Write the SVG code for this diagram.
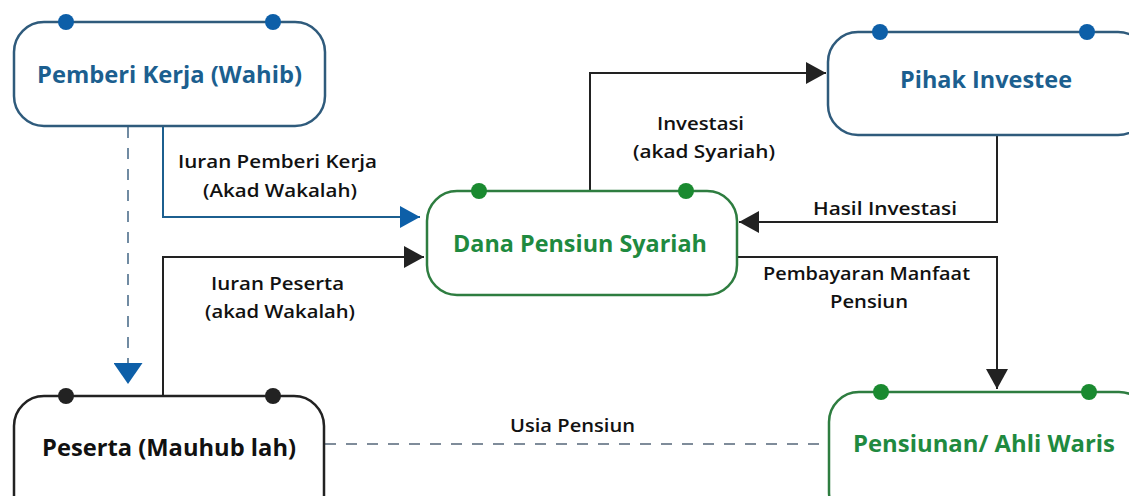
<svg xmlns="http://www.w3.org/2000/svg" width="1129" height="496" viewBox="0 0 1129 496">
<defs>
<style>
.box{fill:#fff;stroke-width:2.5}
.bl{stroke:#2f5b7c}
.gr{stroke:#2e7d40}
.bk{stroke:#222}
.t{font-family:"Open Sans","Liberation Sans",sans-serif;font-weight:700;font-size:23px;text-anchor:middle}
.tb{fill:#1c5f8f}
.tg{fill:#1f8a3f}
.tk{fill:#111}
.lab{font-family:"Open Sans","Liberation Sans",sans-serif;font-weight:600;font-size:17.5px;fill:#111;text-anchor:middle}
.c{fill:none;stroke:#222;stroke-width:2}
.cb{fill:none;stroke:#1c5f8f;stroke-width:2}
.d{fill:none;stroke:#55677a;stroke-width:1.6;stroke-dasharray:11 10}
.db{fill:#0d5fa8}
.dg{fill:#1a8a30}
.dk{fill:#222}
</style>
<marker id="ak" markerUnits="userSpaceOnUse" markerWidth="20" markerHeight="22" refX="20" refY="11" orient="auto"><path d="M0,0 L20,11 L0,22 z" fill="#222"/></marker>
<marker id="ab" markerUnits="userSpaceOnUse" markerWidth="20" markerHeight="22" refX="20" refY="11" orient="auto"><path d="M0,0 L20,11 L0,22 z" fill="#0d5fa8"/></marker>
<marker id="abd" markerUnits="userSpaceOnUse" markerWidth="21" markerHeight="29" refX="21" refY="14.5" orient="auto"><path d="M0,0 L21,14.5 L0,29 z" fill="#0d5fa8"/></marker>
</defs>
<rect width="1129" height="496" fill="#fff"/>
<g id="connectors">
<path class="d" d="M128,127 V363" style="stroke:#4e6f8c"/>
<path class="cb" d="M128,362 V384" style="stroke:none" marker-end="url(#abd)"/>
<path class="cb" d="M163,127 V217 H420" marker-end="url(#ab)"/>
<path class="c" d="M163,396 V257 H424" marker-end="url(#ak)"/>
<path class="c" d="M590,191 V73 H826" marker-end="url(#ak)"/>
<path class="c" d="M997,136 V222 H739" marker-end="url(#ak)"/>
<path class="c" d="M738,257 H997 V389" marker-end="url(#ak)"/>
<path class="d" d="M325,444 H829"/>
<text class="lab" x="277.5" y="168" textLength="199" lengthAdjust="spacingAndGlyphs">Iuran Pemberi Kerja</text>
<text class="lab" x="280" y="197" textLength="154" lengthAdjust="spacingAndGlyphs">(Akad Wakalah)</text>
<text class="lab" x="277.5" y="290" textLength="133" lengthAdjust="spacingAndGlyphs">Iuran Peserta</text>
<text class="lab" x="280" y="318" textLength="150" lengthAdjust="spacingAndGlyphs">(akad Wakalah)</text>
<text class="lab" x="700.5" y="130" textLength="87" lengthAdjust="spacingAndGlyphs">Investasi</text>
<text class="lab" x="704" y="158" textLength="142" lengthAdjust="spacingAndGlyphs">(akad Syariah)</text>
<text class="lab" x="885" y="215" textLength="144" lengthAdjust="spacingAndGlyphs">Hasil Investasi</text>
<text class="lab" x="866.5" y="280" textLength="207" lengthAdjust="spacingAndGlyphs">Pembayaran Manfaat</text>
<text class="lab" x="869" y="308" textLength="78" lengthAdjust="spacingAndGlyphs">Pensiun</text>
<text class="lab" x="572.5" y="432" textLength="125" lengthAdjust="spacingAndGlyphs">Usia Pensiun</text>
</g>
<g id="pemberi">
<rect class="box bl" x="14" y="22" width="311" height="104" rx="30"/>
<circle class="db" cx="66" cy="22" r="8"/><circle class="db" cx="273" cy="22" r="8"/>
<text class="t tb" x="169.5" y="83" textLength="265" lengthAdjust="spacingAndGlyphs">Pemberi Kerja (Wahib)</text>
</g>
<g id="pihak">
<rect class="box bl" x="828" y="32" width="320" height="103" rx="30"/>
<circle class="db" cx="880" cy="32" r="8"/><circle class="db" cx="1087" cy="32" r="8"/>
<text class="t tb" x="986" y="88" textLength="172" lengthAdjust="spacingAndGlyphs">Pihak Investee</text>
</g>
<g id="dana">
<rect class="box gr" x="427" y="191" width="310" height="104" rx="30"/>
<circle class="dg" cx="479" cy="191" r="8"/><circle class="dg" cx="686" cy="191" r="8"/>
<text class="t tg" x="580" y="252" textLength="254" lengthAdjust="spacingAndGlyphs">Dana Pensiun Syariah</text>
</g>
<g id="peserta">
<rect class="box bk" x="14" y="396" width="310" height="130" rx="30"/>
<circle class="dk" cx="66" cy="396" r="8"/><circle class="dk" cx="273" cy="396" r="8"/>
<text class="t tk" x="169" y="456" textLength="254" lengthAdjust="spacingAndGlyphs">Peserta (Mauhub lah)</text>
</g>
<g id="pensiunan">
<rect class="box gr" x="829" y="392" width="320" height="130" rx="30"/>
<circle class="dg" cx="881" cy="392" r="8"/><circle class="dg" cx="1089" cy="392" r="8"/>
<text class="t tg" x="984" y="452" textLength="262" lengthAdjust="spacingAndGlyphs">Pensiunan/ Ahli Waris</text>
</g>
</svg>
